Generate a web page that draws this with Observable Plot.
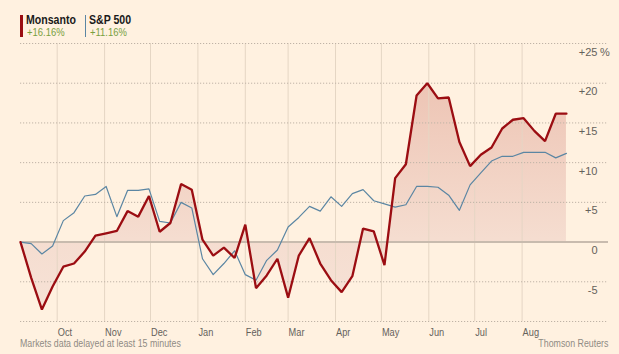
<!DOCTYPE html>
<html>
<head>
<meta charset="utf-8">
<script src="https://cdn.jsdelivr.net/npm/d3@7"></script>
<script src="https://cdn.jsdelivr.net/npm/@observablehq/plot@0.6"></script>
<style>
  html, body { margin: 0; padding: 0; background: #fff1e0; }
  #wrap { position: relative; width: 619px; height: 354px; overflow: hidden; background: #fff1e0; }
  #chart { position: absolute; left: 0; top: 0; }
  .lab { position: absolute; white-space: nowrap; line-height: 1; font-family: "Liberation Sans", Arial, sans-serif; transform-origin: 0 0; }
  .name { font-weight: bold; color: #1a1a1a; transform: scaleX(0.88); }
  .chg { color: #78a03e; transform: scaleX(0.86); }
  .bar { position: absolute; }
  .foot { color: #8f8b84; transform: scaleX(0.84); }
  #src { transform-origin: 100% 0; }
</style>
</head>
<body>
<div id="wrap">
  <div id="chart"></div>
  <div class="bar" style="left:20px; top:15px; width:3px; height:22px; background:#9b0d12;"></div>
  <div class="lab name" id="n0" style="left:26px; top:14.2px; font-size:12px;"></div>
  <div class="lab chg" id="c0" style="left:26.5px; top:26.7px; font-size:11px;"></div>
  <div class="bar" style="left:85px; top:15px; width:1px; height:22px; background:#5b86a3;"></div>
  <div class="lab name" id="n1" style="left:89px; top:14.2px; font-size:12px;"></div>
  <div class="lab chg" id="c1" style="left:89.5px; top:26.7px; font-size:11px;"></div>
  <div class="lab foot" id="note" style="left:20px; top:338.4px; font-size:10.5px;"></div>
  <div class="lab foot" id="src" style="right:11px; top:338.4px; font-size:10.5px;"></div>
</div>
<script>
// ---- data ----
const seriesNames = ["Monsanto", "S&P 500"];
const seriesChanges = ["+16.16%", "+11.16%"];
const startDate = "2012-09-07"; // weekly observations
const monsanto = [0, -4.5, -8.5, -5.6, -3.1, -2.7, -1.2, 0.8, 1.1, 1.4,
  3.9, 3.2, 5.8, 1.3, 2.4, 7.3, 6.6, 0.3, -1.7, -0.7,
  -2.0, 2.2, -5.8, -4.2, -2.1, -7.0, -1.7, 0.5, -2.7, -4.8,
  -6.3, -4.3, 1.7, 1.35, -2.9, 8.05, 9.8, 18.45, 20.0, 18.1,
  18.2, 12.6, 9.56, 11.0, 11.9, 14.3, 15.4, 15.6, 14.0, 12.7,
  16.16, 16.16];
const sp500 = [0, -0.2, -1.5, -0.5, 2.7, 3.7, 5.8, 6.0, 7.0, 3.2,
  6.5, 6.5, 6.7, 2.6, 2.4, 5.0, 4.3, -2.1, -4.1, -2.7,
  -1.1, -4.1, -4.8, -2.3, -1.0, 1.9, 3.1, 4.5, 3.9, 5.7,
  4.5, 6.1, 6.6, 5.2, 4.8, 4.4, 4.7, 7.0, 7.0, 6.9,
  5.9, 4.0, 7.2, 8.7, 10.2, 10.8, 10.8, 11.3, 11.3, 11.3,
  10.6, 11.16];
const monthTicks = ["2012-10-01","2012-11-01","2012-12-01","2013-01-01","2013-02-01","2013-03-01","2013-04-01","2013-05-01","2013-06-01","2013-07-01","2013-08-01"];
const monthLabels = ["Oct","Nov","Dec","Jan","Feb","Mar","Apr","May","Jun","Jul","Aug"];
const yTicks = [-5, 0, 5, 10, 15, 20, 25];
const yLabels = ["-5", "0", "+5", "+10", "+15", "+20", "+25"];
const yGrid = [-10, -5, 5, 10, 15, 20, 25];
const xDomainEnd = "2013-09-26T12:00Z";
const note = "Markets data delayed at least 15 minutes";
const source = "Thomson Reuters";

// ---- build ----
const t0 = new Date(startDate + "T00:00Z");
const data = monsanto.map((v, i) => ({date: d3.utcDay.offset(t0, 7 * i), mon: v, sp: sp500[i]}));
const months = monthTicks.map(s => new Date(s + "T00:00Z"));

const sans = "Liberation Sans, Arial, sans-serif";

const plot = Plot.plot({
  width: 619,
  height: 354,
  marginTop: 43,
  marginBottom: 33,
  marginLeft: 20,
  marginRight: 11,
  style: {background: "#fff1e0", fontFamily: sans, fontSize: "11px", overflow: "visible"},
  x: {type: "utc", domain: [t0, new Date(xDomainEnd)]},
  y: {domain: [-10, 25]},
  marks: [
    Plot.areaY(data, {x: "date", y: "mon", fill: "url(#monGrad)"}),
    Plot.ruleX(months, {y1: -10, y2: 25, stroke: "#e5d6c4", strokeWidth: 1}),
    Plot.ruleY(yGrid, {stroke: "#bfb3a6", strokeWidth: 1, strokeDasharray: "1.2,1.8"}),
    Plot.ruleY([0], {stroke: "#c8bbae", strokeWidth: 2}),
    Plot.lineY(data, {x: "date", y: "sp", stroke: "#5b86a3", strokeWidth: 1.2}),
    Plot.lineY(data, {x: "date", y: "mon", stroke: "#9b0d12", strokeWidth: 2.3, strokeLinejoin: "miter"}),
    Plot.axisX({ticks: months, tickFormat: (d, i) => monthLabels[i], tickSize: 0, tickPadding: 7,
      textAnchor: "start", dx: 0.5, fill: "#65615b", fontSize: 11, label: null}),
    Plot.axisY({anchor: "right", ticks: yTicks, tickFormat: (d, i) => yLabels[i], tickSize: 0, tickPadding: 0,
      textAnchor: "end", dx: -11, dy: 8.5, fill: "#65615b", fontSize: 11, label: null}),
    Plot.text(["%"], {frameAnchor: "right", y: () => 25, text: d => d, textAnchor: "start", dx: -8.5, dy: 8.5,
      fill: "#65615b", fontSize: 11})
  ]
});

const svg = d3.select(plot);
const grad = svg.insert("defs", ":first-child").append("linearGradient")
  .attr("id", "monGrad").attr("gradientUnits", "userSpaceOnUse")
  .attr("x1", 0).attr("x2", 0).attr("y1", 80).attr("y2", 321);
grad.append("stop").attr("offset", "0").attr("stop-color", "#edc4b4");
grad.append("stop").attr("offset", "0.66").attr("stop-color", "#f5ddd0");
grad.append("stop").attr("offset", "1").attr("stop-color", "#f7e3d7");

// condensed look for the month labels (no narrow font installed)
svg.selectAll('g[aria-label="x-axis tick label"] text').each(function () {
  const t = this.getAttribute("transform");
  if (t) {
    this.setAttribute("transform", t + " scale(0.84,1)");
  } else {
    const x = +this.getAttribute("x") || 0, y = +this.getAttribute("y") || 0;
    this.removeAttribute("x"); this.removeAttribute("y");
    this.setAttribute("transform", `translate(${x},${y}) scale(0.84,1)`);
  }
});

document.getElementById("chart").appendChild(plot);
document.getElementById("n0").textContent = seriesNames[0];
document.getElementById("n1").textContent = seriesNames[1];
document.getElementById("c0").textContent = seriesChanges[0];
document.getElementById("c1").textContent = seriesChanges[1];
document.getElementById("note").textContent = note;
document.getElementById("src").textContent = source;
</script>
</body>
</html>
